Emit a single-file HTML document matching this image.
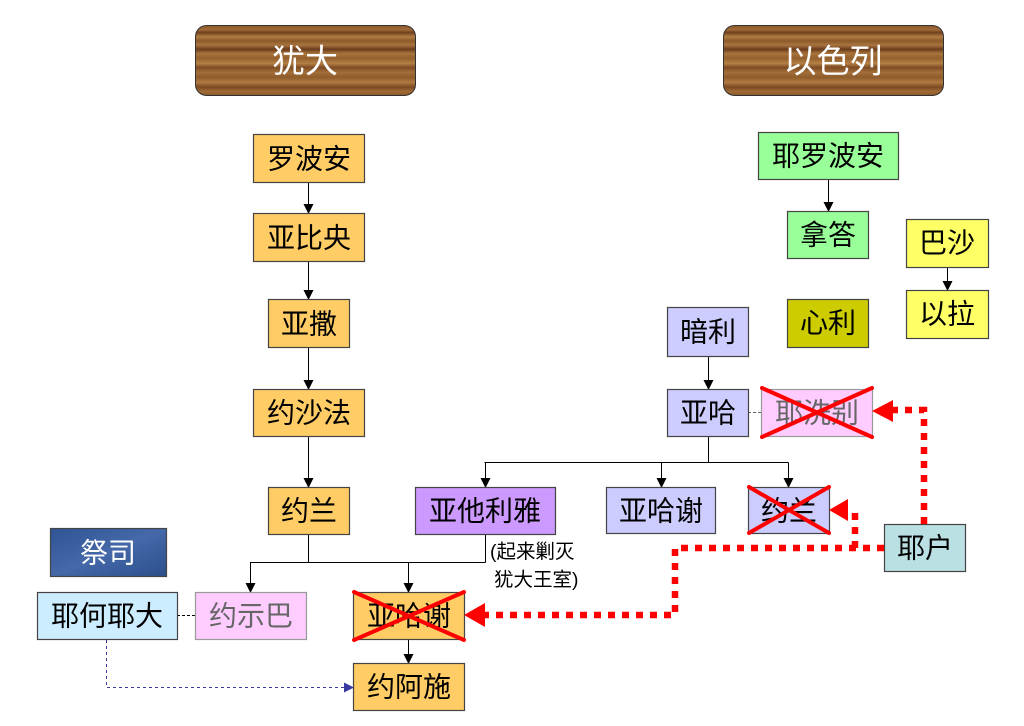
<!DOCTYPE html>
<html><head><meta charset="utf-8"><style>
html,body{margin:0;padding:0;background:#fff;}
svg{display:block;}
text{font-family:"Liberation Sans","Noto Sans CJK SC",sans-serif;}
</style></head><body>
<svg width="1024" height="726" viewBox="0 0 1024 726" xmlns="http://www.w3.org/2000/svg">
<defs>
<linearGradient id="wood" x1="0" y1="0" x2="0" y2="1">
<stop offset="0" stop-color="#8a5a2c"/>
<stop offset="0.06" stop-color="#a06a36"/>
<stop offset="0.1" stop-color="#6e401e"/>
<stop offset="0.16" stop-color="#b07c42"/>
<stop offset="0.22" stop-color="#8c5a2a"/>
<stop offset="0.28" stop-color="#a87440"/>
<stop offset="0.34" stop-color="#6a3c1c"/>
<stop offset="0.4" stop-color="#a8743c"/>
<stop offset="0.47" stop-color="#93602e"/>
<stop offset="0.54" stop-color="#b58044"/>
<stop offset="0.6" stop-color="#7c4c24"/>
<stop offset="0.67" stop-color="#a46e38"/>
<stop offset="0.74" stop-color="#8e5c2c"/>
<stop offset="0.81" stop-color="#b07a40"/>
<stop offset="0.88" stop-color="#7a4a22"/>
<stop offset="0.94" stop-color="#a06a36"/>
<stop offset="1" stop-color="#8a5a2c"/>
</linearGradient>
<linearGradient id="jeans" x1="0" y1="0" x2="1" y2="1">
<stop offset="0" stop-color="#2f5494"/>
<stop offset="0.5" stop-color="#4468a8"/>
<stop offset="1" stop-color="#2c4f8c"/>
</linearGradient>
<marker id="ah" markerWidth="10" markerHeight="10" refX="9" refY="5" orient="auto" markerUnits="userSpaceOnUse">
<path d="M0,0 L10,5 L0,10 z" fill="#000"/>
</marker>
<marker id="ahb" markerWidth="10" markerHeight="10" refX="9" refY="5" orient="auto" markerUnits="userSpaceOnUse">
<path d="M0,0 L10,5 L0,10 z" fill="#3a3aa0"/>
</marker>
</defs>

<!-- headers -->
<rect x="195.5" y="25.5" width="220" height="70" rx="11" fill="url(#wood)" stroke="#333" stroke-width="1"/>
<text x="305" y="61" font-size="33" fill="#fff" text-anchor="middle" dominant-baseline="central">犹大</text>
<rect x="723.5" y="25.5" width="220" height="70" rx="11" fill="url(#wood)" stroke="#333" stroke-width="1"/>
<text x="833" y="61" font-size="33" fill="#fff" text-anchor="middle" dominant-baseline="central">以色列</text>

<!-- connectors black -->
<g stroke="#000" stroke-width="1" fill="none">
<line x1="308.5" y1="182" x2="308.5" y2="213" marker-end="url(#ah)"/>
<line x1="308.5" y1="261" x2="308.5" y2="299" marker-end="url(#ah)"/>
<line x1="308.5" y1="347" x2="308.5" y2="389" marker-end="url(#ah)"/>
<line x1="308.5" y1="436" x2="308.5" y2="487" marker-end="url(#ah)"/>
<polyline points="308.5,534 308.5,562.5"/>
<polyline points="485.5,534 485.5,562.5"/>
<line x1="250" y1="562.5" x2="485.5" y2="562.5"/>
<line x1="250.5" y1="562.5" x2="250.5" y2="592" marker-end="url(#ah)"/>
<line x1="408.5" y1="562.5" x2="408.5" y2="592" marker-end="url(#ah)"/>
<line x1="408.5" y1="640" x2="408.5" y2="663" marker-end="url(#ah)"/>
<line x1="828.5" y1="179" x2="828.5" y2="211" marker-end="url(#ah)"/>
<line x1="947.5" y1="267" x2="947.5" y2="290" marker-end="url(#ah)"/>
<line x1="708.5" y1="356" x2="708.5" y2="389" marker-end="url(#ah)"/>
<line x1="708.5" y1="436" x2="708.5" y2="462.5"/>
<line x1="484.5" y1="462.5" x2="788.5" y2="462.5"/>
<line x1="485.5" y1="462.5" x2="485.5" y2="487" marker-end="url(#ah)"/>
<line x1="661.5" y1="462.5" x2="661.5" y2="487" marker-end="url(#ah)"/>
<line x1="788.5" y1="462.5" x2="788.5" y2="487" marker-end="url(#ah)"/>
<line x1="177" y1="615.5" x2="195" y2="615.5" stroke-dasharray="3 2"/>
<line x1="748" y1="412.5" x2="761" y2="412.5" stroke="#666" stroke-dasharray="3 2"/>
</g>
<polyline points="106.5,640 106.5,687.5 353,687.5" fill="none" stroke="#3a3aa0" stroke-width="1" stroke-dasharray="3 3" marker-end="url(#ahb)"/>

<!-- boxes -->
<g stroke="#444" stroke-width="1.2">
<rect x="253.5" y="134.5" width="111" height="48" fill="#FFCC66"/>
<rect x="253.5" y="213.5" width="111" height="48" fill="#FFCC66"/>
<rect x="268.5" y="299.5" width="81" height="48" fill="#FFCC66"/>
<rect x="253.5" y="389.5" width="111" height="47" fill="#FFCC66"/>
<rect x="268.5" y="487.5" width="81" height="47" fill="#FFCC66"/>
<rect x="415.5" y="487.5" width="140" height="47" fill="#CC99FF"/>
<rect x="606.5" y="487.5" width="109" height="46" fill="#CCCCFF"/>
<rect x="748.5" y="487.5" width="81" height="46" fill="#CCCCFF"/>
<rect x="884.5" y="524.5" width="81" height="47" fill="#BBE0E3"/>
<rect x="50.5" y="528.5" width="116" height="48" fill="url(#jeans)"/>
<rect x="37.5" y="592.5" width="140" height="47" fill="#CCECFF"/>
<rect x="195.5" y="592.5" width="111" height="47" fill="#FFCCFF" stroke="#999"/>
<rect x="353.5" y="592.5" width="111" height="47" fill="#FFCC66"/>
<rect x="353.5" y="663.5" width="111" height="47" fill="#FFCC66"/>
<rect x="758.5" y="132.5" width="140" height="47" fill="#99FF99"/>
<rect x="787.5" y="211.5" width="81" height="47" fill="#99FF99"/>
<rect x="906.5" y="219.5" width="82" height="48" fill="#FFFF66"/>
<rect x="906.5" y="290.5" width="82" height="48" fill="#FFFF66"/>
<rect x="787.5" y="299.5" width="81" height="48" fill="#CCCC00"/>
<rect x="667.5" y="307.5" width="81" height="49" fill="#CCCCFF"/>
<rect x="667.5" y="389.5" width="81" height="47" fill="#CCCCFF"/>
<rect x="761.5" y="389.5" width="111" height="47" fill="#FFCCFF" stroke="#999"/>
</g>

<!-- labels -->
<g font-size="28" text-anchor="middle" dominant-baseline="central" fill="#000">
<text x="309" y="159">罗波安</text>
<text x="309" y="238">亚比央</text>
<text x="309" y="324">亚撒</text>
<text x="309" y="413">约沙法</text>
<text x="309" y="511">约兰</text>
<text x="485" y="511">亚他利雅</text>
<text x="661" y="511">亚哈谢</text>
<text x="789" y="511">约兰</text>
<text x="925" y="548">耶户</text>
<text x="108" y="553" fill="#fff">祭司</text>
<text x="107" y="616">耶何耶大</text>
<text x="251" y="616" fill="#666">约示巴</text>
<text x="409" y="616">亚哈谢</text>
<text x="409" y="687">约阿施</text>
<text x="828" y="156">耶罗波安</text>
<text x="828" y="235">拿答</text>
<text x="947" y="243">巴沙</text>
<text x="947" y="314">以拉</text>
<text x="828" y="323">心利</text>
<text x="708" y="332">暗利</text>
<text x="708" y="413">亚哈</text>
<text x="817" y="413" fill="#666">耶洗别</text>
</g>
<g font-size="19.5" fill="#000">
<text x="490" y="558">(起来剿灭</text>
<text x="494" y="586">犹大王室)</text>
</g>

<!-- red X marks -->
<g stroke="#FF0000" stroke-width="4" stroke-linecap="round">
<line x1="762" y1="388" x2="872" y2="437"/>
<line x1="762" y1="437" x2="872" y2="388"/>
<line x1="749" y1="487" x2="829" y2="533"/>
<line x1="749" y1="533" x2="829" y2="487"/>
<line x1="354" y1="592" x2="464" y2="640"/>
<line x1="354" y1="640" x2="464" y2="592"/>
</g>

<!-- red dotted arrows -->
<g stroke="#FF0000" stroke-width="6.5" fill="none" stroke-dasharray="7 7">
<polyline points="924,524 924,410 892,410"/>
<polyline points="884,548 675,548 675,615 484,615"/>
<polyline points="855,548 855,512 850,512"/>
</g>
<g fill="#FF0000">
<polygon points="872,411 893,400 893,422"/>
<polygon points="464,615 485,603 485,627"/>
<polygon points="829,510 848,499 848,521"/>
</g>
</svg>
</body></html>
